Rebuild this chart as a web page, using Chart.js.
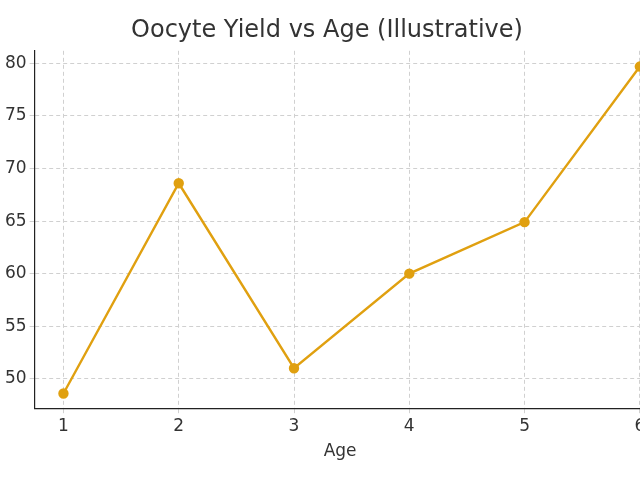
<!DOCTYPE html>
<html>
<head>
<script src="https://cdn.jsdelivr.net/npm/chart.js@4"></script>
<style>
  html, body { margin: 0; padding: 0; overflow: hidden; background: #fff; }
  #wrap { width: 652px; height: 480px; }
</style>
</head>
<body>
<div id="wrap"><canvas id="c"></canvas></div>
<script>
const ages = [1, 2, 3, 4, 5, 6];
const yieldValues = [48.6, 68.6, 51.0, 60.0, 64.9, 79.7];
const yTicks = [50, 55, 60, 65, 70, 75, 80];

const lineColor = '#E0A010';
const points = ages.map((a, i) => ({ x: a, y: yieldValues[i] }));
const keepInts = list => scale => {
  scale.ticks = list.map(v => ({ value: v }));
};

new Chart(document.getElementById('c'), {
  type: 'line',
  data: {
    datasets: [{
      data: points,
      borderColor: lineColor,
      backgroundColor: lineColor,
      borderWidth: 2.4,
      pointRadius: 4,
      tension: 0
    }]
  },
  options: {
    responsive: true,
    maintainAspectRatio: false,
    animation: false,
    layout: { padding: { top: 4, left: 2, bottom: 18 } },
    plugins: {
      legend: { display: false },
      tooltip: { enabled: false },
      title: {
        display: true,
        text: 'Oocyte Yield vs Age (Illustrative)',
        color: '#333',
        font: { family: 'DejaVu Sans', size: 24, weight: 'normal' },
        padding: { top: 12, bottom: 6 }
      }
    },
    scales: {
      x: {
        type: 'linear',
        min: 0.75,
        max: 6.05,
        afterBuildTicks: keepInts(ages),
        title: {
          display: true,
          text: 'Age',
          color: '#333',
          font: { family: 'DejaVu Sans', size: 17 },
          padding: { top: 2, bottom: 0 }
        },
        ticks: { color: '#333', font: { family: 'DejaVu Sans', size: 17 } },
        grid: { color: '#d0d0d0', tickLength: 5, drawTicks: true },
        border: { color: '#222', width: 1.2, dash: [4, 3] }
      },
      y: {
        min: 47.2,
        max: 81.2,
        afterBuildTicks: keepInts(yTicks),
        ticks: { color: '#333', font: { family: 'DejaVu Sans', size: 17 } },
        grid: { color: '#d0d0d0', tickLength: 5 },
        border: { color: '#222', width: 1.2, dash: [4, 3] }
      }
    }
  }
});
</script>
</body>
</html>
